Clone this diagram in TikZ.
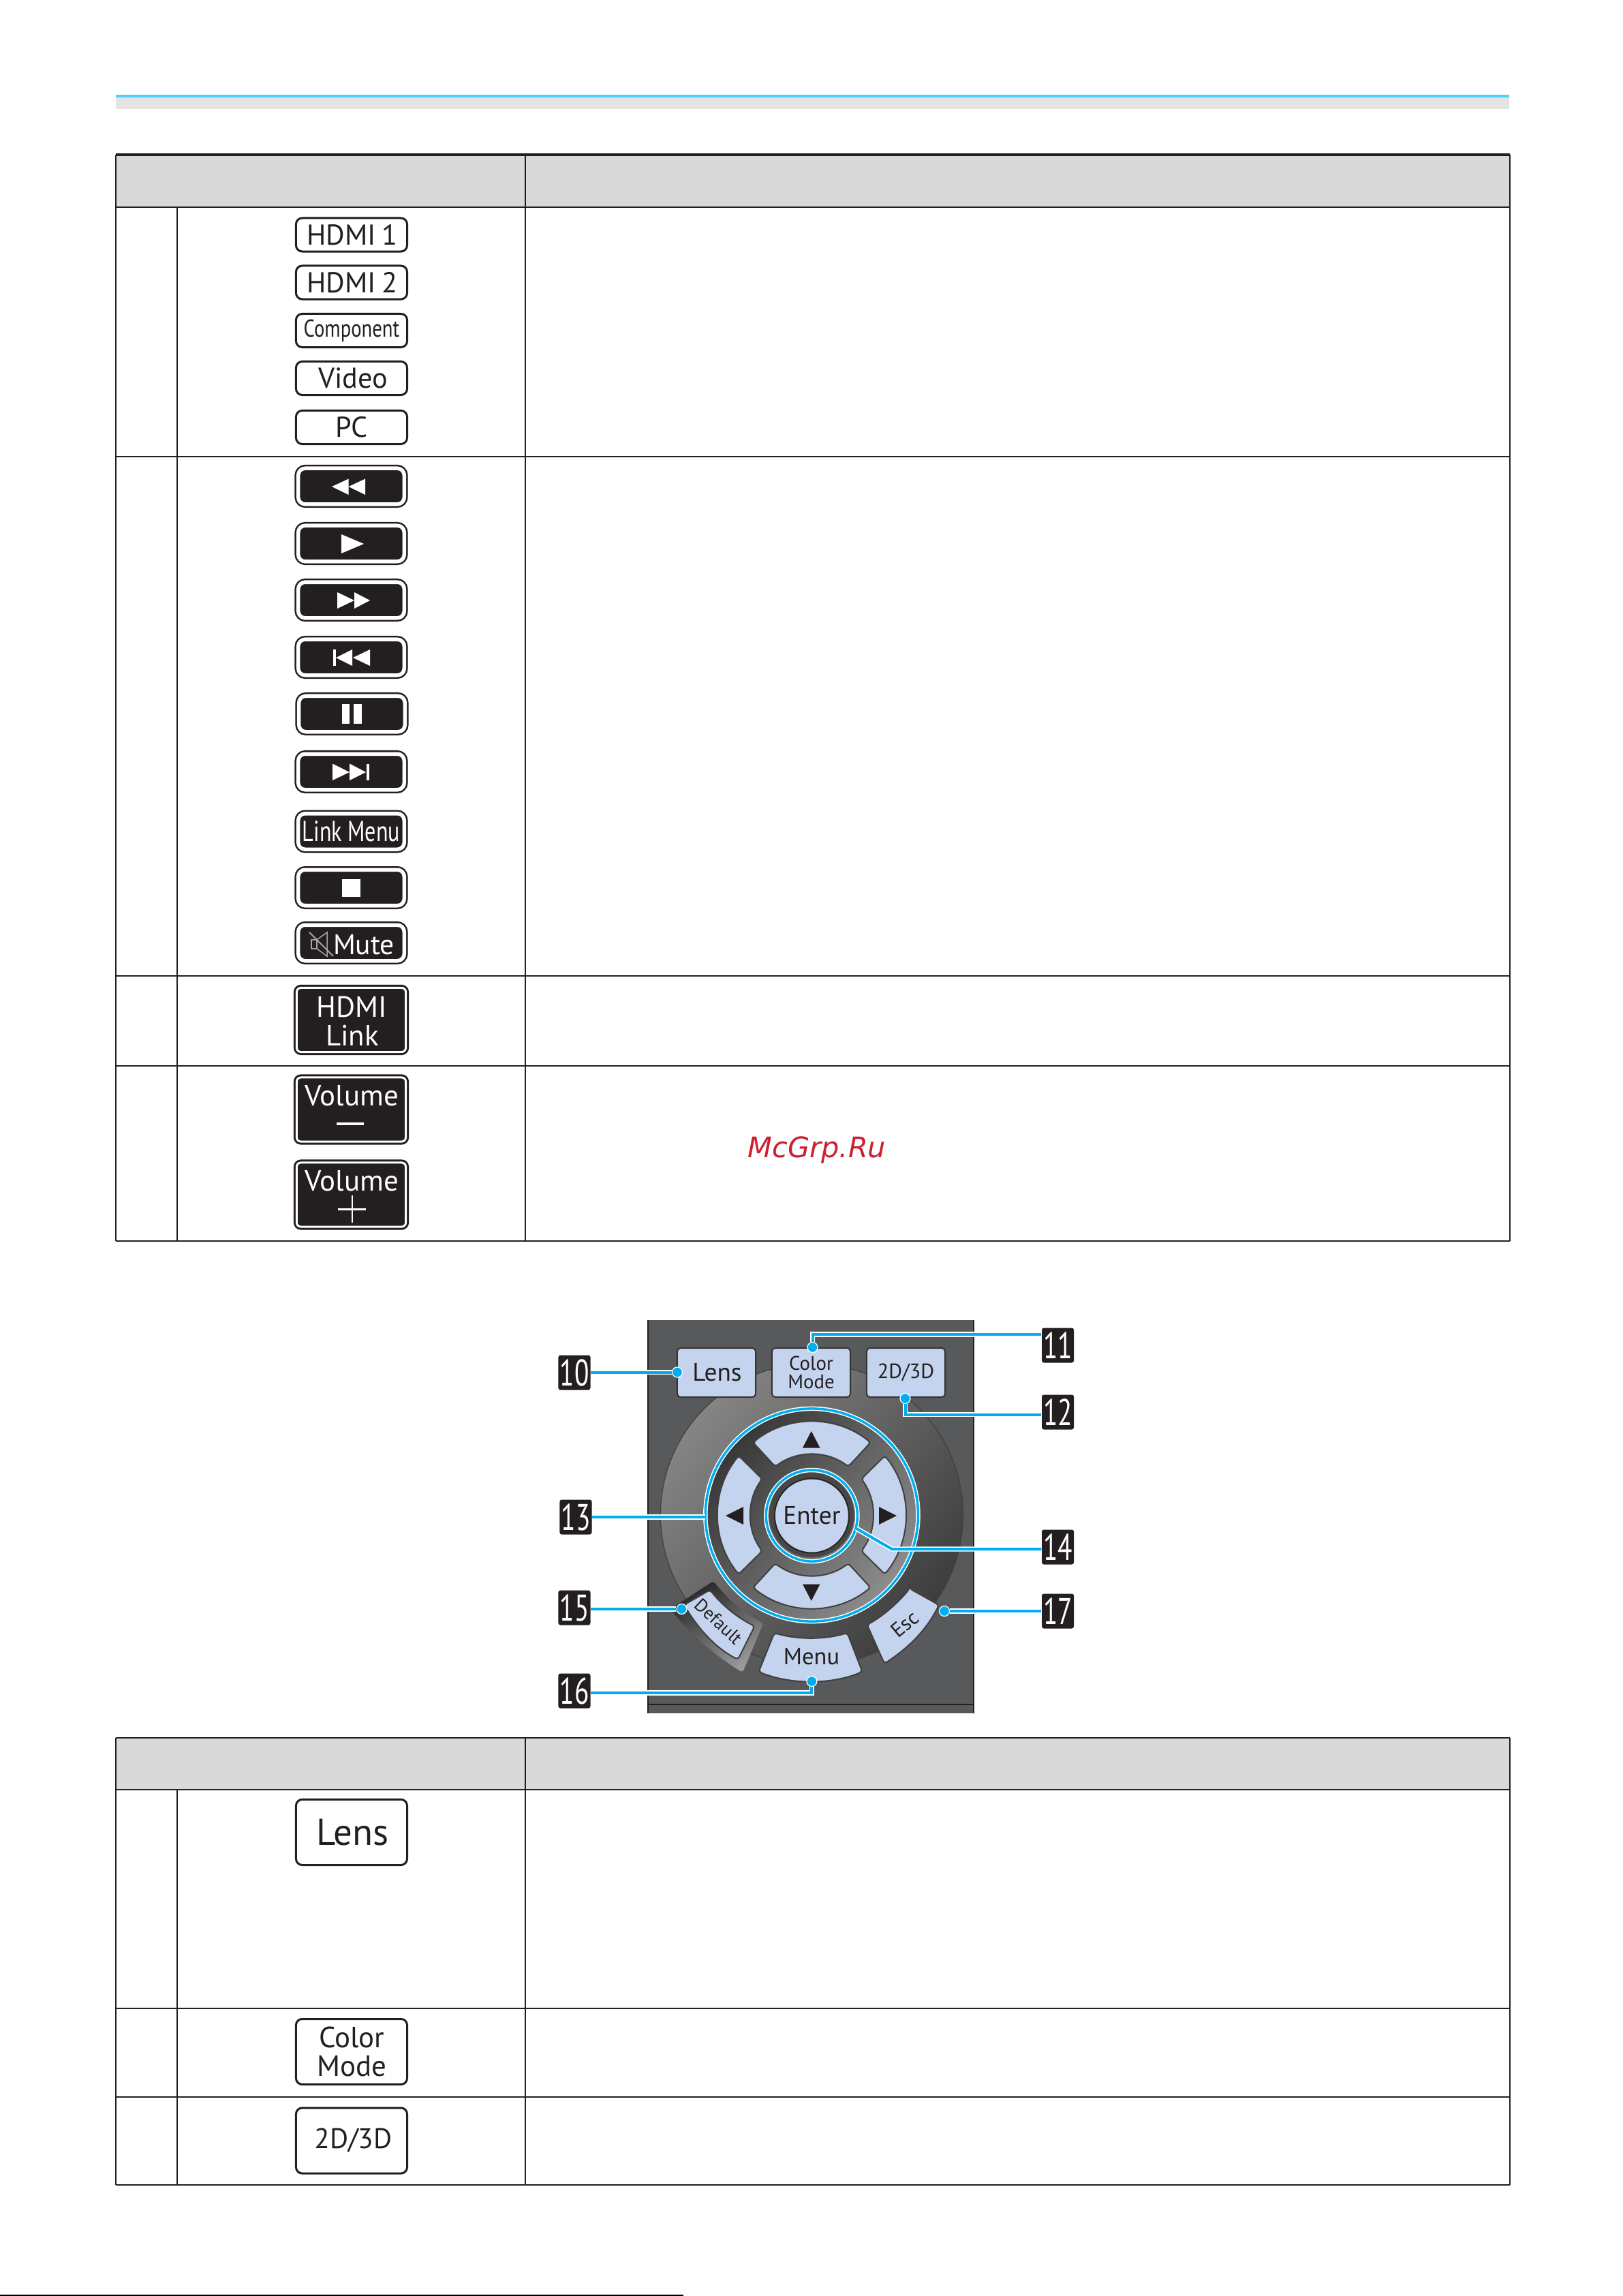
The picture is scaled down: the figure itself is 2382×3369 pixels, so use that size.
\documentclass[tikz,border=0pt]{standalone}
\usepackage{fontspec}
\usepackage{graphicx}
\setmainfont{PT Sans}
\newfontfamily\markfont{DejaVu Sans}
\usetikzlibrary{positioning}
\definecolor{ink}{HTML}{231F20}
\definecolor{barblue}{HTML}{4DCFFF}
\definecolor{bargray}{HTML}{E4E4E4}
\definecolor{headgray}{HTML}{D9D9D9}
\definecolor{keyblue}{HTML}{C5D4EE}
\definecolor{panelgray}{HTML}{58595B}
\definecolor{leadblue}{HTML}{00AEEF}
\definecolor{markred}{HTML}{CC2030}
\newcommand{\narrow}[2]{\scalebox{#1}[1]{#2}}
\tikzset{
  tableline/.style={draw=ink,line width=0.025cm},
  thinline/.style={draw=ink,line width=0.012cm},
  lightbtn/.style={draw=ink,line width=0.03cm,rounded corners=0.09cm,fill=white,text=ink,minimum width=1.63cm,minimum height=0.49cm,inner sep=0pt,align=center,font=\fontsize{12}{13}\selectfont},
  bigbtn/.style={lightbtn,minimum height=0.96cm},
  darkbtn/.style={draw=ink,double=white,double distance=0.055cm,line width=0.025cm,rounded corners=0.1cm,fill=ink,text=white,minimum width=1.555cm,minimum height=0.525cm,inner sep=0pt,align=center,font=\fontsize{10.6}{12}\selectfont},
  tallbtn/.style={draw=ink,double=white,double distance=0.03cm,line width=0.03cm,rounded corners=0.06cm,fill=ink,text=white,minimum width=1.6cm,minimum height=0.94cm,inner sep=0pt,align=center},
  tallfont/.style={text=white,inner sep=0pt,font=\fontsize{12.2}{13}\selectfont},
  glyph/.style={fill=white},
  keycap/.style={fill=keyblue,draw=black!75,line width=0.02cm,rounded corners=0.04cm},
  keysquare/.style={fill=keyblue,draw=black!80,line width=0.02cm,rounded corners=0.05cm,minimum width=1.15cm,minimum height=0.72cm,inner sep=0pt,align=center,text=ink},
  keytext/.style={text=ink,inner sep=0pt},
  keymark/.style={fill=ink},
  calltag/.style={fill=ink,rounded corners=0.03cm,text=white,minimum width=0.47cm,minimum height=0.51cm,inner sep=0pt,font=\fontsize{15.5}{15.5}\selectfont},
  calldot/.style={circle,fill=leadblue,draw=white,line width=0.012cm,minimum size=0.15cm,inner sep=0pt},
  leader/.style={draw=white,double=leadblue,double distance=0.04cm,line width=0.017cm},
  ringline/.style={circle,draw=white,double=leadblue,double distance=0.035cm,line width=0.015cm,inner sep=0pt}
}
\begin{document}
\begin{tikzpicture}[x=0.01cm,y=-0.01cm]
\useasboundingbox (0,0) rectangle (2382,3369);
% top band
\fill[bargray] (170,139) rectangle (2215,160);
\fill[barblue] (170,139) rectangle (2215,143);
% first table
\fill[headgray] (170,227) rectangle (2216,304);
\draw[tableline,line width=0.035cm] (170,227) -- (2216,227);
\draw[tableline] (170,227) -- (170,1821);
\draw[tableline] (771,227) -- (771,1821);
\draw[tableline] (2216,227) -- (2216,1821);
\draw[thinline] (170,304) -- (2216,304);
\draw[tableline] (170,670) -- (2216,670);
\draw[tableline] (170,1432) -- (2216,1432);
\draw[tableline] (170,1564) -- (2216,1564);
\draw[tableline] (170,1821) -- (2216,1821);
\draw[tableline] (260,304) -- (260,1432);
\draw[thinline] (260,1432) -- (260,1821);
% source keys
\node[lightbtn] (hdmione) at (516,344.5) {\hspace{0.02cm}HDMI\hspace{-0.03cm} 1};
\node[lightbtn] (hdmitwo) at (516,414.5) {\hspace{0.02cm}HDMI\hspace{-0.03cm} 2};
\node[lightbtn] (component) at (516,485) {\raisebox{-0.03cm}{\narrow{0.8}{\fontsize{10.2}{12}\selectfont Component}}};
\node[lightbtn] (video) at (516,555) {\raisebox{-0.03cm}{\hspace{0.04cm}Video}};
\node[lightbtn] (pc) at (516,627) {PC};
% link keys
\node[darkbtn] (rewind) at (515.5,713.5) {};
\fill[glyph] (487,714) -- (511.6,702.6) -- (511.6,726) -- cycle;
\fill[glyph] (511.6,714) -- (536,702.6) -- (536,726) -- cycle;
\node[darkbtn] (play) at (515.5,797.5) {};
\fill[glyph] (501,784) -- (534,798) -- (501,812) -- cycle;
\node[darkbtn] (forward) at (515.5,880.5) {};
\fill[glyph] (495,869) -- (520,881) -- (495,893) -- cycle;
\fill[glyph] (520,869) -- (543,881) -- (520,893) -- cycle;
\node[darkbtn] (previous) at (515.5,964.5) {};
\fill[glyph] (489,953) rectangle (493,977);
\fill[glyph] (493,965) -- (517,953) -- (517,977) -- cycle;
\fill[glyph] (518,965) -- (543,953) -- (543,977) -- cycle;
\node[darkbtn] (pause) at (516.5,1047.5) {};
\fill[glyph] (502,1033) rectangle (513,1062);
\fill[glyph] (519,1033) rectangle (531,1062);
\node[darkbtn] (next) at (515.5,1132.5) {};
\fill[glyph] (488,1120.5) -- (513,1133) -- (488,1145) -- cycle;
\fill[glyph] (513,1120.5) -- (537,1133) -- (513,1145) -- cycle;
\fill[glyph] (538,1120.5) rectangle (542,1145);
\node[darkbtn] (linkmenu) at (515.5,1220) {\narrow{0.76}{\fontsize{12}{12}\selectfont Link Menu}};
\node[darkbtn] (stop) at (515.5,1302.5) {};
\fill[glyph] (502,1290) rectangle (529,1316);
\node[darkbtn] (mute) at (515.5,1383.5) {};
\node[text=white,inner sep=0pt,font=\fontsize{11.8}{12}\selectfont] (mutetext) at (534,1386) {Mute};
\draw[black!35,line width=0.015cm] (457,1379) rectangle (465,1392);
\draw[black!35,line width=0.015cm] (465,1379) -- (480,1368) -- (480,1403) -- (465,1392);
\draw[black!35,line width=0.02cm] (454,1368) -- (489,1403);
% hdmi link and volume
\node[tallbtn] (hdmilink) at (515.5,1496.5) {};
\node[tallfont] (hdmiword) at (516.5,1477) {HDMI};
\node[tallfont] (linkword) at (517,1519) {Link};
\node[tallbtn] (volminus) at (515.5,1628) {};
\node[tallfont] (volminusword) at (516.5,1608) {Volume};
\fill[glyph] (494,1647) rectangle (534,1651);
\node[tallbtn] (volplus) at (515.5,1753) {};
\node[tallfont] (volplusword) at (516.5,1733) {Volume};
\fill[glyph] (515.5,1754) rectangle (518,1794);
\fill[glyph] (496,1772.5) rectangle (537,1776);
\node[text=markred,inner sep=0pt,font=\markfont\itshape\fontsize{11.8}{13}\selectfont] (mark) at (1199,1687) {McGrp.Ru};
% remote control panel
\fill[panelgray] (951,1937) rectangle (1429,2514);
\draw[ink,line width=0.02cm] (951,1937) -- (951,2514);
\draw[ink,line width=0.02cm] (1429,1937) -- (1429,2514);
\draw[ink,line width=0.012cm] (951,2501) -- (1429,2501);
\begin{scope}[shift={(1191.4,2223)},y=0.01cm]
\shade[top color=black!48,bottom color=black!76,shading angle=50,draw=black!75,line width=0.012cm] (0,0) circle [radius=222];
\shade[top color=black!78,bottom color=black!45,shading angle=50] (0,0) circle [radius=154];
\draw[keycap] (51:137) arc [start angle=51,end angle=129,radius=137] -- (127:89) arc [start angle=127,end angle=53,radius=89] -- cycle;
\draw[keycap] (231:137) arc [start angle=231,end angle=309,radius=137] -- (307:89) arc [start angle=307,end angle=233,radius=89] -- cycle;
\draw[keycap] (141:138) arc [start angle=141,end angle=219,radius=138] -- (216:90) arc [start angle=216,end angle=144,radius=90] -- cycle;
\draw[keycap] (321:138) arc [start angle=321,end angle=399,radius=138] -- (36:90) arc [start angle=36,end angle=-36,radius=90] -- cycle;
\fill[black!72] (0,0) circle [radius=62];
\end{scope}
\fill[keymark] (1178,2124.5) -- (1190.7,2100) -- (1203.5,2124.5) -- cycle;
\fill[keymark] (1178,2324.5) -- (1190.7,2349) -- (1203.5,2324.5) -- cycle;
\fill[keymark] (1091,2211) -- (1065,2224) -- (1091,2237) -- cycle;
\fill[keymark] (1290,2211) -- (1316,2224) -- (1290,2237) -- cycle;
\node[circle,fill=keyblue,draw=black!85,line width=0.02cm,minimum size=1.09cm,inner sep=0pt,text=ink,font=\fontsize{10.6}{11}\selectfont] (enterkey) at (1191.4,2224) {Enter};
% keys at the top
\node[keysquare,font=\fontsize{10.6}{11}\selectfont] (lenskey) at (1051.5,2014) {\hspace{0.02cm}Lens};
\node[keysquare,font=\fontsize{8.2}{7.8}\selectfont] (colorkey) at (1190.5,2014) {Color\\Mode};
\node[keysquare,font=\fontsize{8.6}{10}\selectfont] (stereokey) at (1329.5,2014) {2D/3D};
% keys at the bottom
\shade[top color=black!85,bottom color=black!40,shading angle=30,rounded corners=0.04cm] (1047,2320) .. controls (1075,2355) and (1098,2370) .. (1120,2382) -- (1090,2454) .. controls (1050,2430) and (1010,2395) .. (984,2361) -- cycle;
\draw[keycap] (1042,2333) .. controls (1062,2358) and (1085,2375) .. (1107.5,2386) -- (1083,2435) .. controls (1050,2418) and (1025,2390) .. (1004,2355) -- cycle;
\draw[keycap] (1136.5,2396) .. controls (1170,2406) and (1210,2406) .. (1243.5,2396) -- (1265.5,2453) .. controls (1220,2472) and (1160,2472) .. (1113.5,2453) -- cycle;
\draw[keycap] (1335,2331) -- (1378,2355) .. controls (1358,2395) and (1330,2420) .. (1298,2441) -- (1272.6,2384) .. controls (1295,2372) and (1318,2352) .. (1335,2331) -- cycle;
\node[keytext,rotate=-43,font=\fontsize{7.6}{9}\selectfont] (defaultword) at (1055,2379) {Default};
\node[keytext,font=\fontsize{9.8}{10}\selectfont] (menuword) at (1191,2431) {Menu};
\node[keytext,rotate=40,font=\fontsize{8.6}{10}\selectfont] (escword) at (1328,2383) {Esc};
% callouts
\node[ringline,minimum size=3.12cm] (padring) at (1191.4,2223) {};
\node[ringline,minimum size=1.34cm] (enterring) at (1191.4,2224) {};
\node[calltag] (tagten) at (843,2014) {\narrow{0.72}{10}};
\node[calltag] (tageleven) at (1552.5,1974) {\narrow{0.72}{11}};
\node[calltag] (tagtwelve) at (1552.5,2072) {\narrow{0.72}{12}};
\node[calltag] (tagthirteen) at (845,2226) {\narrow{0.72}{13}};
\node[calltag] (tagfourteen) at (1552.5,2270) {\narrow{0.72}{14}};
\node[calltag] (tagfifteen) at (843,2359) {\narrow{0.72}{15}};
\node[calltag] (tagsixteen) at (843,2481) {\narrow{0.72}{16}};
\node[calltag] (tagseventeen) at (1552.5,2364) {\narrow{0.72}{17}};
\node[calldot] (dotten) at (994,2013.5) {};
\node[calldot] (doteleven) at (1192.5,1977) {};
\node[calldot] (dottwelve) at (1328.5,2052) {};
\node[calldot] (dotfifteen) at (1000.5,2361) {};
\node[calldot] (dotsixteen) at (1191.4,2467) {};
\node[calldot] (dotseventeen) at (1386,2364) {};
\coordinate (bendeleven) at (1192.5,1958);
\coordinate (bendtwelve) at (1328.5,2075.5);
\coordinate (bendfourteen) at (1309,2273);
\coordinate (bendsixteen) at (1191.4,2484);
\draw[leader] (dotten) -- (tagten.east |- dotten);
\draw[leader] (doteleven) -- (bendeleven) -- (tageleven.west |- bendeleven);
\draw[leader] (dottwelve) -- (bendtwelve) -- (tagtwelve.west |- bendtwelve);
\draw[leader] (padring.west |- tagthirteen) -- (tagthirteen);
\draw[leader] (enterring.-16) -- (bendfourteen) -- (tagfourteen.west |- bendfourteen);
\draw[leader] (dotfifteen) -- (tagfifteen.east |- dotfifteen);
\draw[leader] (dotsixteen) -- (bendsixteen) -- (tagsixteen.east |- bendsixteen);
\draw[leader] (dotseventeen) -- (tagseventeen);
% second table
\fill[headgray] (170,2550) rectangle (2216,2626);
\draw[thinline] (170,2550) -- (2216,2550);
\draw[tableline] (170,2550) -- (170,3206);
\draw[tableline] (771,2550) -- (771,3206);
\draw[tableline] (2216,2550) -- (2216,3206);
\draw[thinline] (170,2626) -- (2216,2626);
\draw[thinline] (170,2947) -- (2216,2947);
\draw[tableline] (170,3077) -- (2216,3077);
\draw[tableline] (170,3206) -- (2216,3206);
\draw[tableline] (260,2626) -- (260,3206);
\node[bigbtn,font=\fontsize{15.6}{17}\selectfont] (lensbtn) at (516,2688.5) {\hspace{0.03cm}Lens};
\node[bigbtn,font=\fontsize{12.2}{11.8}\selectfont] (colorbtn) at (516,3010.5) {\hspace{0.01cm}Color\\\hspace{0.01cm}Mode};
\node[bigbtn,font=\fontsize{11.8}{13}\selectfont] (stereobtn) at (516,3141) {\hspace{0.05cm}2D/3D};
% rule along the foot of the page
\fill[black] (0,3367) rectangle (1003,3369);
\end{tikzpicture}
\end{document}
